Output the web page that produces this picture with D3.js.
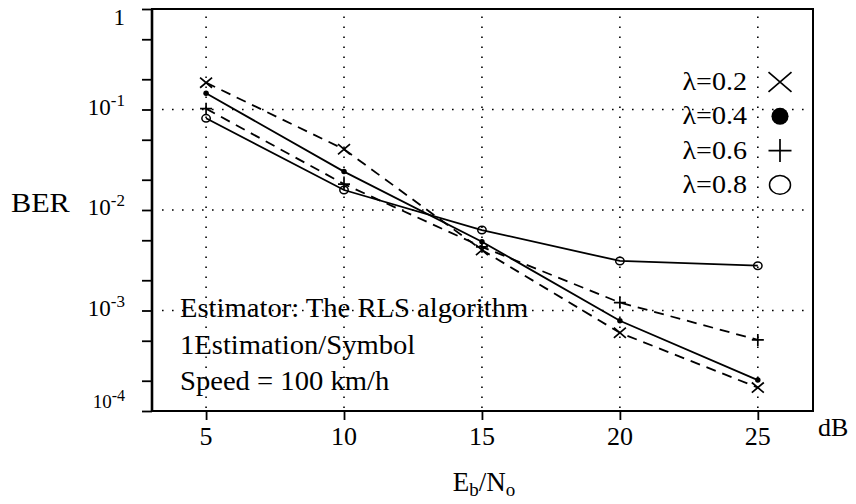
<!DOCTYPE html>
<html><head><meta charset="utf-8">
<script src="https://cdn.jsdelivr.net/npm/d3@7"></script>
<style>html,body{margin:0;padding:0;background:#fff;} svg{display:block;} text{font-family:"Liberation Serif","Times New Roman",Times,"DejaVu Serif",serif;fill:#000;}</style>
</head><body>
<svg id="c" width="856" height="504" font-family="Liberation Serif, Times New Roman, serif"></svg>
<script>
const snr = [5, 10, 15, 20, 25];
const ber02 = [0.185, 0.0402, 0.0040, 6.0e-4, 1.71e-4];
const ber04 = [0.145, 0.0241, 0.00484, 7.9e-4, 2.03e-4];
const ber06 = [0.102, 0.0181, 0.0043, 0.0012, 5.1e-4];
const ber08 = [0.0817, 0.0158, 0.00632, 0.00311, 0.00279];
const seriesLabels = ["λ=0.2", "λ=0.4", "λ=0.6", "λ=0.8"];
const xTicks = [5, 10, 15, 20, 25];
const yMajor = [1, 1e-1, 1e-2, 1e-3, 1e-4];
const yMinor = [0.5, 0.2, 0.05, 0.02, 0.005, 0.002, 5e-4, 2e-4];
const yLabelBase = ["1", "10", "10", "10", "10"];
const yLabelExp = ["", "-1", "-2", "-3", "-4"];
const yGrid = [1e-1, 1e-2, 1e-3];
const annotation = ["Estimator: The RLS algorithm", "1Estimation/Symbol", "Speed = 100 km/h"];

const svg = d3.select("#c");
const L = 152, R = 813, T = 9, B = 411;
const x = d3.scaleLinear().domain([3.04, 27]).range([L, R]);
const y = d3.scaleLog().domain([1, 1e-4]).range([T, B]);

// grid
const grid = svg.append("g").attr("stroke", "#000").attr("stroke-width", 1.6)
  .attr("stroke-dasharray", "1.6,8.4").attr("fill", "none");
grid.selectAll("line.v").data(xTicks).join("line").attr("class", "v")
  .attr("x1", d => x(d)).attr("x2", d => x(d)).attr("y1", B - 3).attr("y2", T + 3);
grid.selectAll("line.h").data(yGrid).join("line").attr("class", "h")
  .attr("y1", d => y(d)).attr("y2", d => y(d)).attr("x1", L + 10).attr("x2", R - 5);

// axes ticks
svg.append("g").attr("transform", `translate(${L},0)`)
  .call(d3.axisLeft(y).tickValues(yMajor.concat(yMinor)).tickSize(10).tickSizeOuter(0).tickFormat(""))
  .call(g => g.select(".domain").remove())
  .selectAll("line").attr("stroke", "#000").attr("stroke-width", 1.8);
svg.append("g").attr("transform", `translate(0,${B})`)
  .call(d3.axisBottom(x).tickValues(xTicks).tickSize(9).tickSizeOuter(0).tickFormat(""))
  .call(g => g.select(".domain").remove())
  .selectAll("line").attr("stroke", "#000").attr("stroke-width", 1.8);

// frame
svg.append("rect").attr("x", L).attr("y", T).attr("width", R - L).attr("height", B - T)
  .attr("fill", "none").attr("stroke", "#000").attr("stroke-width", 2);
svg.append("line").attr("x1", L).attr("x2", L).attr("y1", T).attr("y2", B)
  .attr("stroke", "#000").attr("stroke-width", 2.6);

// y labels
yMajor.forEach((v, i) => {
  const small = i === 4;
  const t = svg.append("text").attr("x", 125).attr("y", y(v) + (i === 0 ? 16 : (small ? -3 : 5)))
    .attr("text-anchor", "end").style("font-size", small ? "19px" : "23px");
  t.append("tspan").text(yLabelBase[i]);
  if (yLabelExp[i]) t.append("tspan").attr("dy", small ? -7 : -9)
    .style("font-size", small ? "16px" : "17px").text(yLabelExp[i]);
});
svg.append("text").attr("transform", "translate(11,212) scale(1.08,1)").style("font-size", "28px").text("BER");

// x labels
svg.selectAll("text.xl").data(xTicks).join("text").attr("class", "xl")
  .attr("x", d => x(d)).attr("y", 445).attr("text-anchor", "middle")
  .style("font-size", "26px").text(d => d);
svg.append("text").attr("x", 818).attr("y", 436).style("font-size", "26px").text("dB");
const xl = svg.append("text").attr("x", 484).attr("y", 491).attr("text-anchor", "middle").style("font-size", "27px");
xl.append("tspan").text("E");
xl.append("tspan").attr("dy", 5).style("font-size", "19px").text("b");
xl.append("tspan").attr("dy", -5).text("/N");
xl.append("tspan").attr("dy", 5).style("font-size", "19px").text("o");

// series
const series = [
  {v: ber02, dash: "10,7", mark: "x"},
  {v: ber04, dash: null, mark: "dot"},
  {v: ber06, dash: "10,7", mark: "plus"},
  {v: ber08, dash: null, mark: "circle"}
];
const line = d3.line().x(d => x(d[0])).y(d => y(d[1]));
series.forEach(s => {
  svg.append("path").datum(snr.map((d, i) => [d, s.v[i]])).attr("d", line)
    .attr("fill", "none").attr("stroke", "#000").attr("stroke-width", 1.8)
    .attr("stroke-dasharray", s.dash);
});
function marker(g, type, cx, cy, sz) {
  if (type === "x") {
    g.append("path").attr("d", `M${cx - sz},${cy - sz * 0.85}L${cx + sz},${cy + sz * 0.85}M${cx - sz},${cy + sz * 0.85}L${cx + sz},${cy - sz * 0.85}`)
      .attr("stroke", "#000").attr("stroke-width", 1.7).attr("fill", "none");
  } else if (type === "plus") {
    g.append("path").attr("d", `M${cx - sz},${cy}L${cx + sz},${cy}M${cx},${cy - sz}L${cx},${cy + sz}`)
      .attr("stroke", "#000").attr("stroke-width", 1.7).attr("fill", "none");
  } else if (type === "dot") {
    g.append("circle").attr("cx", cx).attr("cy", cy).attr("r", sz * 0.55).attr("fill", "#000");
  } else {
    g.append("ellipse").attr("cx", cx).attr("cy", cy).attr("rx", sz * 0.7).attr("ry", sz * 0.62)
      .attr("fill", "none").attr("stroke", "#000").attr("stroke-width", 1.5);
  }
}
const mg = svg.append("g");
series.forEach(s => {
  snr.forEach((d, i) => marker(mg, s.mark, x(d), y(s.v[i]), s.mark === "circle" ? 6 : (s.mark === "dot" ? 5 : 6)));
});

// legend
seriesLabels.forEach((lab, i) => {
  const by = 90 + i * 34.3;
  svg.append("text").attr("transform", `translate(747,${by}) scale(1.08,1)`).attr("text-anchor", "end")
    .style("font-size", "26px").text(lab);
  const mk = series[i].mark;
  marker(svg, mk, 780, by - 8, mk === "circle" ? 15 : (mk === "dot" ? 15.5 : 11.5));
});

// annotation
annotation.forEach((t, i) => {
  svg.append("text").attr("transform", `translate(180,${317 + i * 36.5}) scale(1.06,1)`)
    .style("font-size", "27px").text(t);
});
</script>
</body></html>
